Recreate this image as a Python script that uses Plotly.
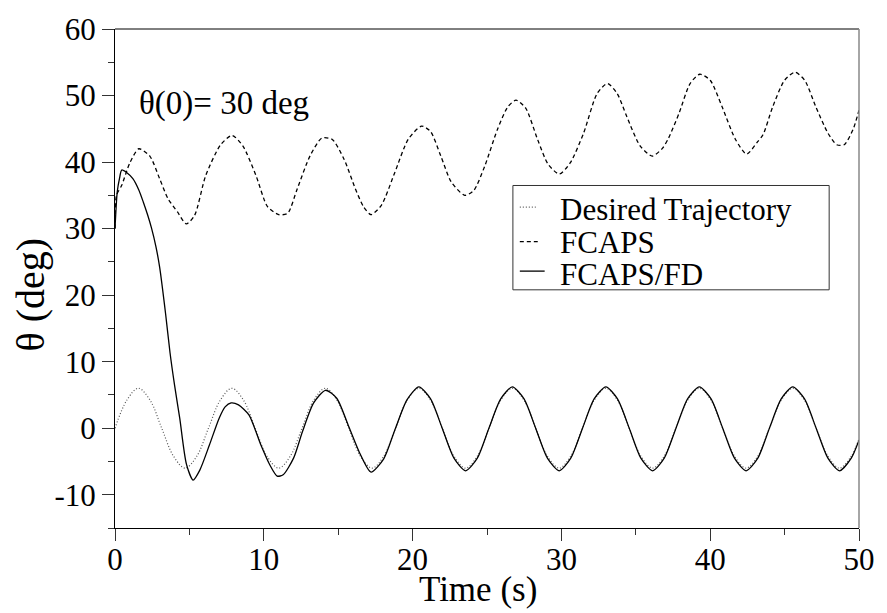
import plotly.graph_objects as go

# ---- data ----
desired_t = [0, 0.79, 1.57, 2.36, 3.14, 3.93, 4.71, 5.50, 6.28, 7.07, 7.85, 8.64, 9.42, 10.21,
             11.00, 11.78, 12.57, 13.35, 14.14, 14.92, 15.71, 16.49, 17.28, 18.06, 18.85, 19.63,
             20.42, 21.21, 21.99, 22.78, 23.56, 24.35, 25.13, 25.92, 26.70, 27.49, 28.27, 29.06,
             29.85, 30.63, 31.42, 32.20, 32.99, 33.77, 34.56, 35.34, 36.13, 36.91, 37.70, 38.48,
             39.27, 40.06, 40.84, 41.63, 42.41, 43.20, 43.98, 44.77, 45.55, 46.34, 47.12, 47.91,
             48.69, 49.48, 50.0]
desired_v = [0, 4.2, 6.0, 4.2, 0, -4.2, -6.0, -4.2,
             0, 4.2, 6.0, 4.2, 0, -4.2, -6.0, -4.2,
             0, 4.2, 6.0, 4.2, 0, -4.2, -6.0, -4.2,
             0, 4.2, 6.0, 4.2, 0, -4.2, -6.0, -4.2,
             0, 4.2, 6.0, 4.2, 0, -4.2, -6.0, -4.2,
             0, 4.2, 6.0, 4.2, 0, -4.2, -6.0, -4.2,
             0, 4.2, 6.0, 4.2, 0, -4.2, -6.0, -4.2,
             0, 4.2, 6.0, 4.2, 0, -4.2, -6.0, -4.2, -1.6]

fcaps_t = [0, 0.1, 0.45, 1.0, 1.6, 2.34, 3.0, 3.56, 4.2, 4.79, 5.35, 6.1, 7.1, 7.87, 8.6, 9.47,
           10.25, 11.0, 11.6, 12.25, 13.1, 13.9, 14.6, 15.4, 16.15, 16.7, 17.2, 17.9, 18.8, 19.7,
           20.6, 21.2, 21.9, 22.6, 23.5, 24.1, 24.85, 25.7, 26.4, 26.95, 27.6, 28.4, 29.1, 29.86,
           30.6, 31.5, 32.4, 33.1, 33.75, 34.4, 35.3, 36.1, 36.8, 37.2, 37.9, 38.65, 39.3, 40.0,
           40.8, 41.7, 42.45, 43.2, 43.55, 44.2, 45.0, 45.7, 46.35, 47.1, 47.9, 48.5, 49.0, 49.6, 50.0]
fcaps_v = [30, 35, 36.5, 39.9, 42.0, 40.9, 37.5, 34.5, 32.5, 30.7, 32.0, 38.0, 42.6, 44.0, 42.4, 38.0,
           33.3, 32.1, 32.3, 36.0, 40.9, 43.6, 43.4, 40.4, 36.0, 33.3, 32.1, 33.5, 38.4, 43.4,
           45.4, 44.6, 40.9, 37.0, 35.0, 35.7, 39.4, 44.9, 48.3, 49.3, 48.1, 43.4, 39.7, 38.2,
           39.9, 44.4, 50.3, 51.8, 50.3, 46.8, 42.4, 40.9, 42.1, 43.6, 47.3, 51.8, 53.2, 52.3,
           48.3, 43.4, 41.2, 43.1, 44.1, 48.3, 52.3, 53.5, 52.3, 48.3, 44.4, 42.6, 42.6, 44.9, 47.8]

fd_t = [0, 0.15, 0.3, 0.45, 0.8, 1.2, 1.6, 1.9, 2.2, 2.45, 2.75, 3.0, 3.4, 3.7, 4.0, 4.35, 4.8,
        5.25, 5.7, 6.35, 7.0, 7.4, 7.8, 8.3, 9.0, 9.8, 10.4, 10.9, 11.3, 12.0, 12.6, 13.35, 14.15,
        14.9, 15.7, 16.5, 17.2, 18.06, 18.85, 19.63, 20.42, 21.21, 21.99, 22.78, 23.56, 24.35,
        25.13, 25.92, 26.70, 27.49, 28.27, 29.06, 29.85, 30.63, 31.42, 32.20, 32.99, 33.77,
        34.56, 35.34, 36.13, 36.91, 37.70, 38.48, 39.27, 40.06, 40.84, 41.63, 42.41, 43.20,
        43.98, 44.77, 45.55, 46.34, 47.12, 47.91, 48.69, 49.48, 50.0]
fd_v = [30, 35.5, 37.5, 38.8, 38.4, 37.5, 35.8, 34.0, 32.0, 30.1, 27.3, 24.2, 17.2, 11.3, 6.5, 1.5, -5.4,
        -7.8, -6.3, -2.5, 1.5, 3.2, 3.8, 3.5, 2.0, -2.5, -5.5, -7.2, -7.0, -4.5, -0.5, 3.8, 5.7,
        4.5, 0.3, -4.0, -6.6, -4.6, 0.0, 4.3, 6.2, 4.4, 0, -4.5, -6.4, -4.5,
        0, 4.4, 6.2, 4.4, 0, -4.5, -6.4, -4.5,
        0, 4.4, 6.2, 4.4, 0, -4.5, -6.4, -4.5,
        0, 4.4, 6.2, 4.4, 0, -4.5, -6.4, -4.5,
        0, 4.4, 6.2, 4.4, 0, -4.5, -6.4, -4.5, -1.8]

series_names = ["Desired Trajectory", "FCAPS", "FCAPS/FD"]

x_ticks = [0, 10, 20, 30, 40, 50]
x_ticktext = ["0", "10", "20", "30", "40", "50"]
y_ticks = [-10, 0, 10, 20, 30, 40, 50, 60]
y_ticktext = ["-10", "0", "10", "20", "30", "40", "50", "60"]

FONT = "Liberation Serif, Times New Roman, serif"

styles = [
    dict(color="#555555", width=1.2, dash="1px,2px"),
    dict(color="black", width=1.3, dash="4px,3px"),
    dict(color="black", width=1.3, dash="solid"),
]

fig = go.Figure()
fig.add_trace(go.Scatter(x=desired_t, y=desired_v, mode="lines", name=series_names[0],
                         line=dict(shape="spline", **styles[0])))
fig.add_trace(go.Scatter(x=fcaps_t, y=fcaps_v, mode="lines", name=series_names[1],
                         line=dict(shape="spline", smoothing=0.7, **styles[1])))
fig.add_trace(go.Scatter(x=fd_t, y=fd_v, mode="lines", name=series_names[2],
                         line=dict(shape="spline", smoothing=0.7, **styles[2])))

axis_common = dict(ticks="outside", ticklen=12, tickwidth=1, tickcolor="#333",
                   showgrid=False, zeroline=False, showline=True, linecolor="black", linewidth=1,
                   tickfont=dict(family=FONT, size=31, color="black"),
                   minor=dict(ticks="outside", ticklen=6, tickcolor="#333", dtick=5, showgrid=False))

fig.update_xaxes(range=[0, 50], tickvals=x_ticks, ticktext=x_ticktext,
                 ticklabelstandoff=-8, **axis_common)
fig.update_yaxes(range=[-15, 60], tickvals=y_ticks, ticktext=y_ticktext, **axis_common)

# manual legend (box, samples, labels) in paper coordinates
shapes = [
    dict(type="line", xref="paper", yref="paper", x0=0, x1=1, y0=1, y1=1,
         line=dict(color="black", width=1)),
    dict(type="line", xref="paper", yref="paper", x0=1, x1=1, y0=0, y1=1,
         line=dict(color="#888", width=1.5)),
    dict(type="rect", xref="paper", yref="paper", x0=0.5348, x1=0.9599, y0=0.4773, y1=0.6864,
         line=dict(color="#333", width=1), fillcolor="white", layer="above"),
]
sample_y = [0.643, 0.574, 0.5148]
sample_x1 = [0.5655, 0.5682, 0.5775]
text_y = [0.638, 0.573, 0.508]
annotations = []
for i in range(3):
    shapes.append(dict(type="line", xref="paper", yref="paper", x0=0.5441, x1=sample_x1[i],
                       y0=sample_y[i], y1=sample_y[i], layer="above",
                       line=dict(color=styles[i]["color"], width=styles[i]["width"],
                                 dash=styles[i]["dash"])))
    annotations.append(dict(x=0.5949, y=text_y[i], xref="paper", yref="paper",
                            text=series_names[i], showarrow=False, xanchor="left",
                            yanchor="middle", font=dict(family=FONT, size=31, color="black")))

annotations += [
    dict(x=1.47, y=48.8, xref="x", yref="y", text="θ(0)= 30 deg", showarrow=False,
         xanchor="left", yanchor="middle", font=dict(family=FONT, size=33, color="black")),
    dict(x=0.488, y=-0.1665, xref="paper", yref="paper", text="Time (s)", showarrow=False,
         xanchor="center", yanchor="bottom", font=dict(family=FONT, size=35, color="black")),
    dict(x=-0.1136, y=0.469, xref="paper", yref="paper", text="θ (deg)", showarrow=False,
         textangle=-90, xanchor="center", yanchor="middle",
         font=dict(family=FONT, size=40, color="black")),
]

fig.update_layout(
    width=887, height=613,
    margin=dict(l=115, r=24, t=21, b=85),
    plot_bgcolor="white", paper_bgcolor="white",
    showlegend=False,
    shapes=shapes,
    annotations=annotations,
)

fig.write_html("out.html")
